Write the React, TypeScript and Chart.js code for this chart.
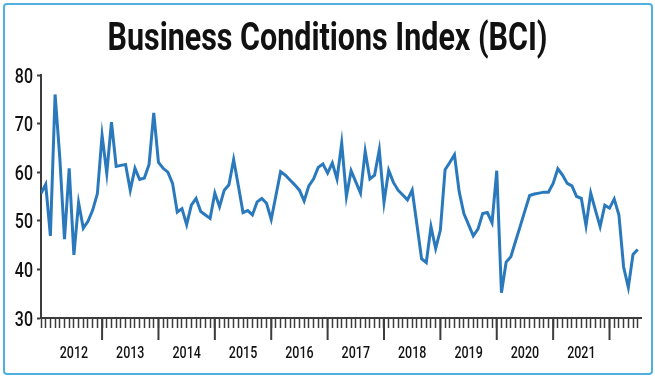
import React, { useEffect, useRef } from 'react';
import { Chart, registerables } from 'chart.js';

Chart.register(...registerables);

// ---- data ----
const chartTitle = 'Business Conditions Index (BCI)';
const startYear = 2011;
const startMonth = 11; // December (0-based)
const monthNames = ['Jan', 'Feb', 'Mar', 'Apr', 'May', 'Jun', 'Jul', 'Aug', 'Sep', 'Oct', 'Nov', 'Dec'];

const bciValues = [
  55.6, 57.5, 46.9, 76.0, 63.0, 46.2, 60.8, 43.0, 53.7, 48.5, 49.9, 52.2,
  55.6, 67.6, 59.8, 70.3, 61.2, 61.4, 61.6, 56.3, 60.8, 58.5, 58.8, 61.6,
  72.2, 62.0, 60.8, 60.0, 57.7, 51.8, 52.5, 49.2, 53.2, 54.6, 51.9, 51.2,
  50.5, 55.7, 52.9, 56.3, 57.4, 62.6, 57.2, 51.7, 52.1, 51.2, 53.9, 54.6,
  53.6, 50.3, 55.2, 60.1, 59.4, 58.4, 57.4, 56.3, 54.1, 57.2, 58.6, 61.0,
  61.7, 59.8, 61.9, 58.6, 66.0, 55.0, 60.3, 58.0, 55.7, 64.3, 58.6, 59.4,
  64.6, 53.8, 60.4, 57.9, 56.3, 55.3, 54.3, 56.3, 49.3, 42.2, 41.4, 48.8,
  44.3, 48.1, 60.5, 62.0, 63.6, 56.0, 51.5, 49.2, 46.9, 48.3, 51.5, 51.7,
  49.6, 60.3, 35.2, 41.5, 42.6, 45.8, 48.9, 52.1, 55.2, 55.5, 55.7, 55.9,
  55.9, 57.7, 60.7, 59.4, 57.7, 57.2, 55.0, 54.6, 49.0, 55.7, 52.2, 48.8,
  53.2, 52.6, 54.5, 51.2, 40.5, 36.3, 43.1, 44.1,
];

const yearLabels = ['2012', '2013', '2014', '2015', '2016', '2017', '2018', '2019', '2020', '2021'];
const yTickValues = [30, 40, 50, 60, 70, 80];

const months = bciValues.map((_, i) => {
  const m = (startMonth + i) % 12;
  const y = startYear + Math.floor((startMonth + i) / 12);
  return { month: monthNames[m], year: String(y) };
});

// ---- styles ----
const FONT = "Roboto, 'Liberation Sans', sans-serif";
const LINE_COLOR = '#2a79bd';
const AXIS_COLOR = '#3c3c3c';
const FRAME_COLOR = '#4fb0e0';
const TEXT_COLOR = '#111';

function drawNarrowText(
  ctx: CanvasRenderingContext2D,
  text: string,
  x: number,
  y: number,
  font: string,
  sx: number,
  align: CanvasTextAlign,
) {
  ctx.save();
  ctx.font = font;
  ctx.fillStyle = TEXT_COLOR;
  ctx.textBaseline = 'alphabetic';
  ctx.textAlign = align;
  ctx.translate(x, y);
  ctx.scale(sx, 1);
  ctx.fillText(text, 0, 0);
  ctx.restore();
}

const textPlugin = {
  id: 'narrowText',
  afterDraw(chart: any) {
    const ctx: CanvasRenderingContext2D = chart.ctx;
    const xs = chart.scales.x;
    const ys = chart.scales.y;
    const area = chart.chartArea;
    const firstYear = Number(yearLabels[0]);

    // long year-boundary ticks
    ctx.save();
    ctx.strokeStyle = AXIS_COLOR;
    ctx.lineWidth = 2;
    months.forEach((mm, i) => {
      if (mm.month === 'Jan' && Number(mm.year) > firstYear) {
        const px = xs.getPixelForValue(i);
        ctx.beginPath();
        ctx.moveTo(px, area.bottom);
        ctx.lineTo(px, area.bottom + 22);
        ctx.stroke();
      }
    });
    ctx.restore();

    // title
    const titleFont = `bold 38px ${FONT}`;
    ctx.save();
    ctx.font = titleFont;
    const tw = ctx.measureText(chartTitle).width;
    ctx.restore();
    drawNarrowText(ctx, chartTitle, chart.width / 2, 50, titleFont, 440 / tw, 'center');

    // y labels
    yTickValues.forEach((v) => {
      drawNarrowText(ctx, String(v), area.left - 8, ys.getPixelForValue(v) + 7.5, `500 21px ${FONT}`, 0.76, 'right');
    });

    // x year labels (centred on the middle month of each year)
    months.forEach((mm, i) => {
      if (mm.month === 'Jul' && yearLabels.includes(mm.year)) {
        drawNarrowText(ctx, mm.year, xs.getPixelForValue(i), area.bottom + 40, `500 16px ${FONT}`, 0.78, 'center');
      }
    });
  },
};

export default function App() {
  const canvasRef = useRef<HTMLCanvasElement | null>(null);

  useEffect(() => {
    document.body.style.margin = '0';
    const canvas = canvasRef.current;
    if (!canvas) return;
    const chart = new Chart(canvas, {
      type: 'line',
      data: {
        datasets: [
          {
            label: 'BCI',
            data: bciValues.map((v, i) => ({ x: i, y: v })),
            borderColor: LINE_COLOR,
            backgroundColor: LINE_COLOR,
            borderWidth: 3,
            pointRadius: 0,
            tension: 0,
            fill: false,
          },
        ],
      },
      options: {
        animation: false,
        responsive: false,
        devicePixelRatio: 1,
        layout: { padding: { top: 75, left: 0, right: 14, bottom: 0 } },
        plugins: {
          legend: { display: false },
          tooltip: { enabled: false },
          title: { display: false },
        },
        scales: {
          x: {
            type: 'linear',
            min: 0,
            max: bciValues.length - 1 + 0.7,
            afterBuildTicks: (scale: any) => {
              scale.ticks = months.map((_, i) => ({ value: i }));
            },
            afterFit: (scale: any) => {
              scale.height = 60;
            },
            grid: {
              drawOnChartArea: false,
              drawTicks: true,
              tickLength: 10,
              tickWidth: 1.5,
              tickColor: AXIS_COLOR,
            },
            border: { display: true, color: AXIS_COLOR, width: 2 },
            ticks: { display: false, autoSkip: false, maxRotation: 0 },
          },
          y: {
            min: 30,
            max: 80,
            afterBuildTicks: (scale: any) => {
              scale.ticks = yTickValues.map((v) => ({ value: v }));
            },
            afterFit: (scale: any) => {
              scale.width = 41;
            },
            grid: {
              drawOnChartArea: false,
              drawTicks: true,
              tickLength: 4,
              tickWidth: 2,
              tickColor: AXIS_COLOR,
            },
            border: { display: true, color: AXIS_COLOR, width: 2 },
            ticks: { display: false },
          },
        },
      },
      plugins: [textPlugin],
    });
    return () => chart.destroy();
  }, []);

  return (
    <div style={{ position: 'relative', width: 655, height: 378, background: '#fff' }}>
      <canvas ref={canvasRef} width={655} height={378} style={{ display: 'block', width: 655, height: 378 }} />
      <div
        style={{
          position: 'absolute',
          left: 3,
          top: 3,
          width: 646,
          height: 368,
          border: `2px solid ${FRAME_COLOR}`,
          borderRadius: 4,
          pointerEvents: 'none',
        }}
      />
    </div>
  );
}
